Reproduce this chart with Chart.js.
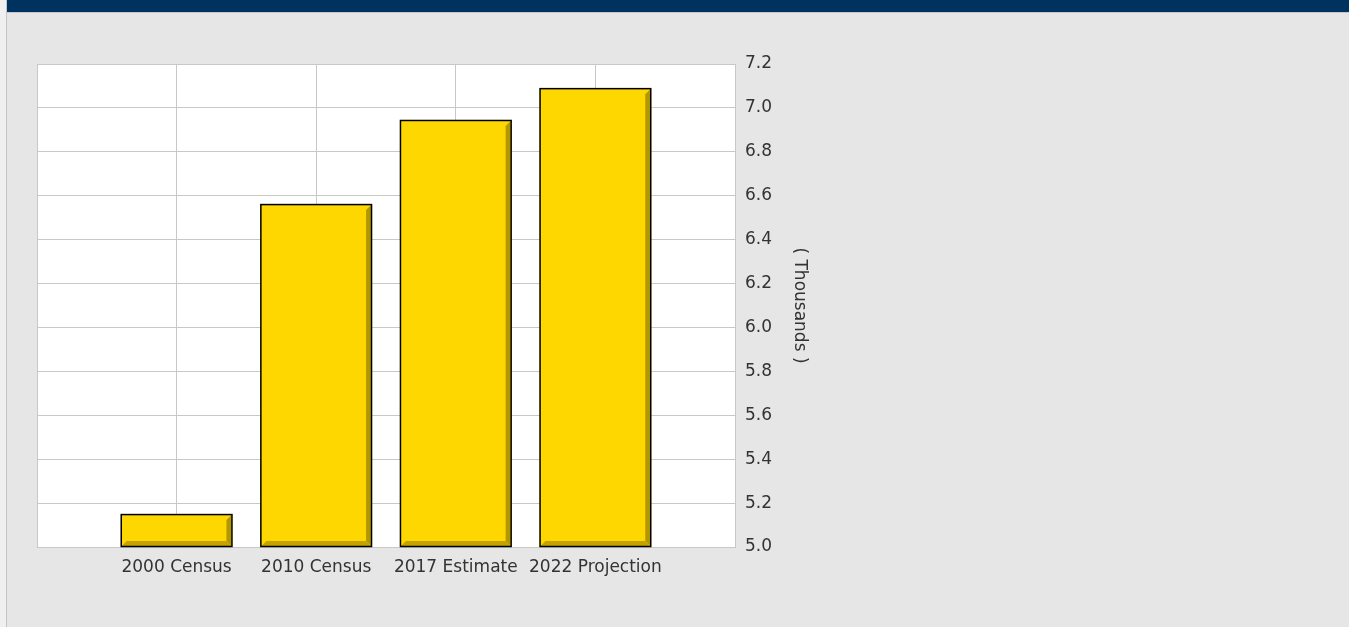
<!DOCTYPE html>
<html>
<head>
<meta charset="utf-8">
<script src="https://cdn.jsdelivr.net/npm/chart.js@4.4.1/dist/chart.umd.min.js"></script>
<style>
    html, body { margin: 0; padding: 0; overflow: hidden; background: #f0f0f0; }
    #panel {
        position: absolute; left: 6px; top: 0; width: 1343px; height: 627px;
        background: #e6e6e6; border-left: 1px solid #c4c4c4;
    }
    #topbar {
        position: absolute; left: 0; top: 0; right: 0; height: 12px;
        background: #00325f; border-bottom: 1px solid #c8c8c8;
    }
    #chart { position: absolute; left: 0; top: 0; }
</style>
</head>
<body>
<div id="panel"><div id="topbar"></div></div>
<canvas id="chart" width="1349" height="627"></canvas>
<script>
const categories = ["2000 Census", "2010 Census", "2017 Estimate", "2022 Projection"];
const population = [5.15, 6.562, 6.945, 7.09]; // thousands
const yTicks = [5.0, 5.2, 5.4, 5.6, 5.8, 6.0, 6.2, 6.4, 6.6, 6.8, 7.0, 7.2];

// empty slot on each side so bars sit on the grid lines
const labels = [""].concat(categories, [""]);
const values = [null].concat(population, [null]);

const gridColor = "#c8c8c8";
const tickFont = { family: "DejaVu Sans", size: 17 };

// white plot area
const plotBackground = {
    id: "plotBackground",
    beforeDraw(chart) {
        const { ctx, chartArea: a } = chart;
        ctx.save();
        ctx.fillStyle = "#ffffff";
        ctx.fillRect(a.left, a.top, a.right - a.left, a.bottom - a.top);
        ctx.restore();
    }
};

// darker right / bottom edges on each bar
const barBevel = {
    id: "barBevel",
    afterDatasetsDraw(chart) {
        const ctx = chart.ctx;
        const data = chart.data.datasets[0].data;
        chart.getDatasetMeta(0).data.forEach((bar, i) => {
            if (data[i] == null) return;
            const L = bar.x - bar.width / 2, R = bar.x + bar.width / 2;
            const T = bar.y, B = Math.min(bar.base, chart.chartArea.bottom);
            const d = 6;
            ctx.save();
            ctx.fillStyle = "#b39700";
            ctx.beginPath();
            ctx.moveTo(R - 1, T + 1);
            ctx.lineTo(R - 1, B - 1);
            ctx.lineTo(R - d, B - d);
            ctx.lineTo(R - d, T + d);
            ctx.closePath();
            ctx.fill();
            ctx.fillStyle = "#c4a300";
            ctx.beginPath();
            ctx.moveTo(L + 1, B - 1);
            ctx.lineTo(R - 1, B - 1);
            ctx.lineTo(R - d, B - d);
            ctx.lineTo(L + d, B - d);
            ctx.closePath();
            ctx.fill();
            ctx.strokeStyle = "#000000";
            ctx.lineWidth = 1.5;
            ctx.strokeRect(L + 0.5, T + 0.5, R - L - 1, B - T - 1);
            ctx.restore();
        });
    }
};

new Chart(document.getElementById("chart"), {
    type: "bar",
    data: {
        labels: labels,
        datasets: [{
            data: values,
            backgroundColor: "#ffd700",
            borderWidth: 0,
            barPercentage: 0.8,
            categoryPercentage: 1.0
        }]
    },
    options: {
        responsive: false,
        animation: false,
        layout: { padding: { left: 37, top: 64, right: 539, bottom: 0 } },
        plugins: { legend: { display: false }, tooltip: { enabled: false } },
        scales: {
            x: {
                offset: false,
                grid: { color: gridColor, offset: false, drawTicks: false },
                border: { color: gridColor },
                ticks: { color: "#333333", font: tickFont, padding: 10, maxRotation: 0, autoSkip: false },
                afterFit(scale) { scale.height = 80; }
            },
            y: {
                position: "right",
                min: yTicks[0],
                max: yTicks[yTicks.length - 1],
                afterBuildTicks(scale) { scale.ticks = yTicks.map((v) => ({ value: v })); },
                grid: { color: gridColor, drawTicks: false },
                border: { color: gridColor },
                ticks: {
                    color: "#333333", font: tickFont, padding: 10,
                    callback: (v) => Number(v).toFixed(1)
                },
                title: {
                    display: true, text: "( Thousands )", color: "#333333",
                    font: tickFont, padding: 0
                },
                afterFit(scale) { scale.width = 75; }
            }
        }
    },
    plugins: [plotBackground, barBevel]
});
</script>
</body>
</html>
